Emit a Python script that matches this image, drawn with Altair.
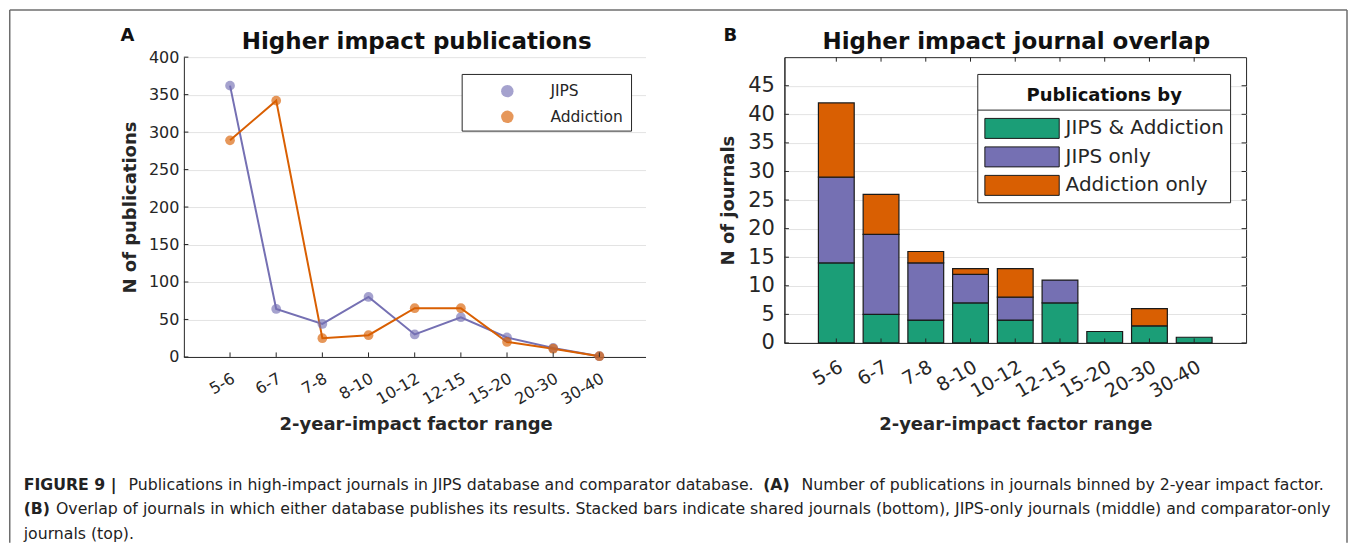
import altair as alt
import pandas as pd

# ---------------- data ----------------
categories = ["5-6", "6-7", "7-8", "8-10", "10-12", "12-15", "15-20", "20-30", "30-40"]

# Panel A: number of publications per impact-factor bin
jips_pubs = [362, 64, 44, 80, 30, 53, 26, 12, 1]
addiction_pubs = [289, 342, 25, 29, 65, 65, 20, 11, 1]
series_names = ["JIPS", "Addiction"]
series_colors = ["#7570b3", "#d95f02"]

# Panel B: number of journals per impact-factor bin (stacked)
shared_journals = [14, 5, 4, 7, 4, 7, 2, 3, 1]
jips_only_journals = [15, 14, 10, 5, 4, 4, 0, 0, 0]
addiction_only_journals = [13, 7, 2, 1, 5, 0, 0, 3, 0]
group_names = ["JIPS & Addiction", "JIPS only", "Addiction only"]
group_colors = ["#1b9e77", "#7570b3", "#d95f02"]

yticks_a = [0, 50, 100, 150, 200, 250, 300, 350, 400]
yticks_b = [0, 5, 10, 15, 20, 25, 30, 35, 40, 45]

caption_lines = [
    [("FIGURE 9 |", True), ("Publications in high-impact journals in JIPS database and comparator database.", False),
     ("(A)", True), ("Number of publications in journals binned by 2-year impact factor.", False)],
    [("(B)", True), ("Overlap of journals in which either database publishes its results. Stacked bars indicate "
                     "shared journals (bottom), JIPS-only journals (middle) and comparator-only", False)],
    [("journals (top).", False)],
]

# ---------------- style / layout constants ----------------
FONT = "DejaVu Sans"
AXC = "#262626"
GRID = "#e3e3e3"
WA, HA = 462, 300     # panel A plot area
WB, HB = 462, 286     # panel B plot area
AX0, AY0 = 183, 56    # page position of panel A plot origin
BX0 = 784             # page x of panel B plot origin

one = pd.DataFrame({"k": [0]})


def txt(text, x, y, size, bold=False, align="left", baseline="alphabetic", color="#111111"):
    return alt.Chart(one).mark_text(
        text=text, font=FONT, fontSize=size, fontWeight="bold" if bold else "normal",
        align=align, baseline=baseline, color=color,
    ).encode(x=alt.value(x), y=alt.value(y))


def hrule(x1, x2, y, color=AXC, width=1.0):
    return alt.Chart(one).mark_rule(color=color, strokeWidth=width).encode(
        x=alt.value(x1), x2=alt.value(x2), y=alt.value(y))


def vrule(x, y1, y2, color=AXC, width=1.0):
    return alt.Chart(one).mark_rule(color=color, strokeWidth=width).encode(
        x=alt.value(x), y=alt.value(y1), y2=alt.value(y2))


def box(x1, x2, y1, y2, fill="white", stroke=AXC, width=1.0):
    return alt.Chart(one).mark_rect(fill=fill, stroke=stroke, strokeWidth=width).encode(
        x=alt.value(x1), x2=alt.value(x2), y=alt.value(y1), y2=alt.value(y2))


# ---------------- panel A ----------------
dfA = pd.DataFrame({
    "category": categories * 2,
    "idx": list(range(len(categories))) * 2,
    "series": [series_names[0]] * len(categories) + [series_names[1]] * len(categories),
    "value": jips_pubs + addiction_pubs,
})

x_a = alt.X("category:N", sort=categories, scale=alt.Scale(type="point", padding=1),
            axis=alt.Axis(title="2-year-impact factor range", titleX=232, titleY=73,
                          titleAlign="center", titleBaseline="alphabetic", titleFontSize=18,
                          titleFontWeight="bold", titleColor=AXC, titleFont=FONT,
                          labelAngle=-30, labelAlign="right", labelBaseline="middle",
                          labelPadding=20, labelOffset=3, labelFontSize=16, labelColor=AXC,
                          labelFont=FONT, labelOverlap=False, ticks=False, tickSize=0,
                          domainColor=AXC, domainWidth=1, grid=False))
y_a = alt.Y("value:Q", scale=alt.Scale(domain=[0, 400], nice=False),
            axis=alt.Axis(values=yticks_a, title="N of publications", titleX=-48, titleY=HA / 2,
                          titleAngle=-90, titleAlign="center", titleBaseline="alphabetic",
                          titleFontSize=18, titleFontWeight="bold", titleColor=AXC, titleFont=FONT,
                          labelFontSize=16, labelPadding=5, labelColor=AXC, labelFont=FONT,
                          ticks=False, tickSize=0, domainColor=AXC, domainWidth=1,
                          grid=True, gridColor=GRID, gridWidth=1))
color_a = alt.Color("series:N", scale=alt.Scale(domain=series_names, range=series_colors), legend=None)

lines_a = alt.Chart(dfA).mark_line(strokeWidth=2).encode(x=x_a, y=y_a, color=color_a, order="idx:Q")
points_a = alt.Chart(dfA).mark_circle(size=95, opacity=0.65).encode(x=x_a, y=y_a, color=color_a)
xt_a = alt.Chart(pd.DataFrame({"category": categories})).mark_rule(color=AXC, strokeWidth=1).encode(
    x=x_a, y=alt.value(HA), y2=alt.value(HA - 4.5))
yt_a = alt.Chart(pd.DataFrame({"value": yticks_a})).mark_rule(color=AXC, strokeWidth=1).encode(
    y=y_a, x=alt.value(0), x2=alt.value(4.5))

layers_a = [lines_a, points_a, xt_a, yt_a]

# legend A
layers_a.append(box(278.5, 448, 17.3, 74))
for i, (name, col) in enumerate(zip(series_names, series_colors)):
    cy = 34 + 25.7 * i
    layers_a.append(alt.Chart(one).mark_circle(size=155, opacity=0.65, color=col).encode(
        x=alt.value(323.7), y=alt.value(cy)))
    layers_a.append(txt(name, 366.8, cy, 15.5, baseline="middle", color=AXC))

# titles
layers_a.append(txt("Higher impact publications", 233, -7.7, 23, bold=True, align="center"))
layers_a.append(txt("A", -63.3, -16, 18, bold=True))

# caption (page coordinates converted to panel A coordinates)
seg_x = [[22.7, 127.7, 762.7, 801], [22.7, 55], [22.7]]
line_y = [489.3, 513.3, 538]
for li, segs in enumerate(caption_lines):
    for si, (t, b) in enumerate(segs):
        layers_a.append(txt(t, seg_x[li][si] - AX0, line_y[li] - AY0, 15.75, bold=b, color="#222222"))

# outer frame (top, left, right)
FL, FT, FR, FB = -174.25, -47.25, 1164, 486
FC = "#6e6e6e"
layers_a.append(hrule(FL, FR, FT, color=FC, width=1.5))
layers_a.append(vrule(FL, FT, FB, color=FC, width=1.5))
layers_a.append(vrule(FR, FT, FB, color=FC, width=1.5))

chartA = alt.layer(*layers_a).properties(width=WA, height=HA)

# ---------------- panel B ----------------
rows = []
for gi, (gname, vals) in enumerate(zip(group_names, [shared_journals, jips_only_journals, addiction_only_journals])):
    for ci, cat in enumerate(categories):
        if vals[ci] > 0:
            rows.append({"category": cat, "group": gname, "count": vals[ci], "order": gi})
dfB = pd.DataFrame(rows)

axis_xb = alt.Axis(title="2-year-impact factor range", titleX=231, titleY=87,
                   titleAlign="center", titleBaseline="alphabetic", titleFontSize=18,
                   titleFontWeight="bold", titleColor=AXC, titleFont=FONT,
                   labelAngle=-30, labelAlign="right", labelBaseline="middle",
                   labelPadding=22, labelOffset=5, labelFontSize=19, labelColor=AXC,
                   labelFont=FONT, labelOverlap=False, ticks=False, tickSize=0,
                   domainColor=AXC, domainWidth=1, grid=False)
axis_yb = alt.Axis(values=yticks_b, title="N of journals", titleX=-51, titleY=HB / 2,
                   titleAngle=-90, titleAlign="center", titleBaseline="alphabetic",
                   titleFontSize=18, titleFontWeight="bold", titleColor=AXC, titleFont=FONT,
                   labelFontSize=21, labelPadding=10, labelColor=AXC, labelFont=FONT,
                   ticks=False, tickSize=0, domainColor=AXC, domainWidth=1,
                   grid=True, gridColor=GRID, gridWidth=1)
scale_xb = alt.Scale(type="band", paddingInner=0.2, paddingOuter=0.76)
scale_yb = alt.Scale(domain=[0, 50], nice=False)

x_b = alt.X("category:N", sort=categories, scale=scale_xb, axis=axis_xb)
y_b = alt.Y("count:Q", stack="zero", scale=scale_yb, axis=axis_yb)
y_b_plain = alt.Y("count:Q", scale=scale_yb, axis=axis_yb)

bars_b = alt.Chart(dfB).mark_bar(stroke="#1a1a1a", strokeWidth=1.2).encode(
    x=x_b, y=y_b,
    color=alt.Color("group:N", scale=alt.Scale(domain=group_names, range=group_colors), legend=None),
    order=alt.Order("order:Q"),
)

cat_df = pd.DataFrame({"category": categories})
yt_df = pd.DataFrame({"count": yticks_b})
ticks_b = [
    alt.Chart(cat_df).mark_rule(color=AXC, strokeWidth=1).encode(x=x_b, y=alt.value(HB), y2=alt.value(HB - 4.5)),
    alt.Chart(cat_df).mark_rule(color=AXC, strokeWidth=1).encode(x=x_b, y=alt.value(0), y2=alt.value(4.5)),
    alt.Chart(yt_df).mark_rule(color=AXC, strokeWidth=1).encode(y=y_b_plain, x=alt.value(0), x2=alt.value(4.5)),
    alt.Chart(yt_df).mark_rule(color=AXC, strokeWidth=1).encode(y=y_b_plain, x=alt.value(WB), x2=alt.value(WB - 4.5)),
]

layers_b = [bars_b] + ticks_b

# legend B
layers_b.append(box(193.5, 446.5, 17.3, 145.7))
layers_b.append(hrule(193.5, 446.5, 53))
layers_b.append(txt("Publications by", 320, 44, 18, bold=True, align="center"))
for i, (gname, col) in enumerate(zip(group_names, group_colors)):
    cy = 71.3 + 28.5 * i
    layers_b.append(box(200.6, 275, cy - 10, cy + 10, fill=col, stroke="#1a1a1a"))
    layers_b.append(txt(gname, 281.4, cy, 20, baseline="middle", color=AXC))

layers_b.append(txt("Higher impact journal overlap", 232, -7.7, 23, bold=True, align="center"))
layers_b.append(txt("B", -61, -16, 18, bold=True))

chartB = alt.layer(*layers_b).properties(
    width=WB, height=HB, view=alt.ViewBackground(stroke=AXC, strokeWidth=1))

chart = alt.hconcat(chartA, chartB, spacing=BX0 - AX0 - WA, bounds="flush").resolve_scale(
    color="independent"
).properties(
    padding=0
).configure(font=FONT).configure_view(stroke="transparent")

chart.save("out.html", embed_options={"renderer": "svg", "actions": False})
